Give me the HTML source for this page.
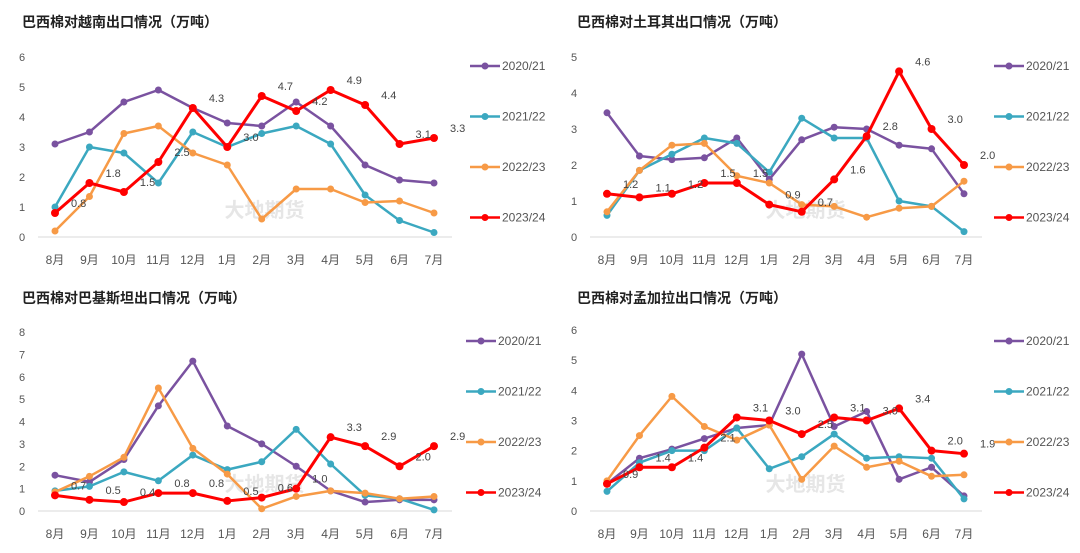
<!DOCTYPE html>
<html><head><meta charset="utf-8">
<style>
html,body{margin:0;padding:0;background:#fff;}
body{width:1080px;height:548px;overflow:hidden;font-family:"Liberation Sans","Noto Sans CJK SC",sans-serif;}
svg text{font-family:"Liberation Sans","Noto Sans CJK SC",sans-serif;}
</style></head>
<body>
<svg id="chart" width="1080" height="548" xmlns="http://www.w3.org/2000/svg"></svg>
<script>
const months = ["8月","9月","10月","11月","12月","1月","2月","3月","4月","5月","6月","7月"];
const seasons = ["2020/21","2021/22","2022/23","2023/24"];
const colors = ["#7a52a0","#3ba8c0","#f79a46","#ff0000"];

const vnTitle = "巴西棉对越南出口情况（万吨）";
const vn2021 = [3.1,3.5,4.5,4.9,4.3,3.8,3.7,4.5,3.7,2.4,1.9,1.8];
const vn2122 = [1.0,3.0,2.8,1.8,3.5,3.0,3.45,3.7,3.1,1.4,0.55,0.15];
const vn2223 = [0.2,1.35,3.45,3.7,2.8,2.4,0.6,1.6,1.6,1.15,1.2,0.8];
const vn2324 = [0.8,1.8,1.5,2.5,4.3,3.0,4.7,4.2,4.9,4.4,3.1,3.3];
const vnTicks = [0,1,2,3,4,5,6];

const trTitle = "巴西棉对土耳其出口情况（万吨）";
const tr2021 = [3.45,2.25,2.15,2.2,2.75,1.6,2.7,3.05,3.0,2.55,2.45,1.2];
const tr2122 = [0.6,1.85,2.3,2.75,2.6,1.8,3.3,2.75,2.75,1.0,0.85,0.15];
const tr2223 = [0.7,1.85,2.55,2.6,1.7,1.5,0.9,0.85,0.55,0.8,0.85,1.55];
const tr2324 = [1.2,1.1,1.2,1.5,1.5,0.9,0.7,1.6,2.8,4.6,3.0,2.0];
const trTicks = [0,1,2,3,4,5];

const pkTitle = "巴西棉对巴基斯坦出口情况（万吨）";
const pk2021 = [1.6,1.3,2.3,4.7,6.7,3.8,3.0,2.0,0.9,0.4,0.5,0.5];
const pk2122 = [0.9,1.1,1.75,1.35,2.5,1.85,2.2,3.65,2.1,0.7,0.55,0.05];
const pk2223 = [0.85,1.55,2.4,5.5,2.8,1.65,0.1,0.65,0.9,0.8,0.55,0.65];
const pk2324 = [0.7,0.5,0.4,0.8,0.8,0.45,0.6,1.0,3.3,2.9,2.0,2.9];
const pkTicks = [0,1,2,3,4,5,6,7,8];

const bdTitle = "巴西棉对孟加拉出口情况（万吨）";
const bd2021 = [0.9,1.75,2.05,2.4,2.75,2.85,5.2,2.8,3.3,1.05,1.45,0.5];
const bd2122 = [0.65,1.6,2.0,2.0,2.75,1.4,1.8,2.55,1.75,1.8,1.75,0.4];
const bd2223 = [1.0,2.5,3.8,2.8,2.35,2.85,1.05,2.15,1.45,1.65,1.15,1.2];
const bd2324 = [0.9,1.45,1.45,2.1,3.1,3.0,2.55,3.1,3.0,3.4,2.0,1.9];
const bdTicks = [0,1,2,3,4,5,6];

const NS="http://www.w3.org/2000/svg";
const svg=document.getElementById('chart');
function mk(tag,attrs,parent){const e=document.createElementNS(NS,tag);for(const k in attrs)e.setAttribute(k,attrs[k]);(parent||svg).appendChild(e);return e;}

function panel(key,title,series,ticks,box){
  const g=mk('g',{});
  
  
  const maxV=ticks[ticks.length-1];
  const yS=v=>box.y0-(v/maxV)*(box.y0-box.y1);
  const xS=i=>box.x0+i*(box.x1-box.x0)/(months.length-1);
  const t=mk('text',{x:box.tx,y:box.ty,'font-size':14,'font-weight':'bold',fill:'#222'},g);
  t.textContent=title;
  
  
  ticks.forEach(v=>{const tt=mk('text',{x:box.ax0-16,y:yS(v)+4,'font-size':11,fill:'#555','text-anchor':'middle'},g);tt.textContent=v;
    
    });
  const ax=mk('line',{x1:box.ax0,x2:box.ax1,y1:box.y0,y2:box.y0,stroke:'#d9d9d9','stroke-width':1},g);
  
  
  months.forEach((m,i)=>{const tt=mk('text',{x:xS(i),y:box.y0+27,'font-size':12,fill:'#555','text-anchor':'middle'},g);tt.textContent=m;
    
    });
  // watermark
  const wm=mk('text',{x:(box.x0+box.x1)/2+20,y:box.y0-20,'font-size':20,'font-weight':'bold',fill:'#e6e6e6','text-anchor':'middle'},g);
  wm.textContent='大地期货';
  
  
  series.forEach((s,si)=>{
    const pts=s.map((v,i)=>xS(i)+','+yS(v)).join(' ');
    const pl=mk('polyline',{points:pts,fill:'none',stroke:colors[si],'stroke-width':si===3?3:2.5,'stroke-linejoin':'round'},g);
    
    
    s.forEach((v,i)=>{const c=mk('circle',{cx:xS(i),cy:yS(v),r:si===3?4:3.5,fill:colors[si]},g);
      
      });
  });
  series[3].forEach((v,i)=>{const lt=mk('text',{x:xS(i)+16,y:yS(v)-6,'font-size':11,fill:'#444'},g);lt.textContent=v.toFixed(1);
    
    });
  seasons.forEach((s,si)=>{
    const ly=box.ly+si*box.lg;
    const le=mk('g',{},g);
    
    
    mk('line',{x1:box.lx,x2:box.lx+30,y1:ly,y2:ly,stroke:colors[si],'stroke-width':2.5},le);
    mk('circle',{cx:box.lx+15,cy:ly,r:3.5,fill:colors[si]},le);
    const lt=mk('text',{x:box.lx+32,y:ly+4,'font-size':12,fill:'#555'},le);lt.textContent=s;
  });
}
panel('vietnam',vnTitle,[vn2021,vn2122,vn2223,vn2324],vnTicks,{x0:55,x1:434,y0:237,y1:57,ax0:38,ax1:452,tx:22,ty:27,lx:470,ly:66,lg:50.5});
panel('turkey',trTitle,[tr2021,tr2122,tr2223,tr2324],trTicks,{x0:607,x1:964,y0:237,y1:57,ax0:590,ax1:982,tx:577,ty:27,lx:994,ly:66,lg:50.5});
panel('pakistan',pkTitle,[pk2021,pk2122,pk2223,pk2324],pkTicks,{x0:55,x1:434,y0:511,y1:332,ax0:38,ax1:452,tx:22,ty:303,lx:466,ly:341,lg:50.5});
panel('bangladesh',bdTitle,[bd2021,bd2122,bd2223,bd2324],bdTicks,{x0:607,x1:964,y0:511,y1:330,ax0:590,ax1:982,tx:577,ty:303,lx:994,ly:341,lg:50.5});
</script>
</body></html>
